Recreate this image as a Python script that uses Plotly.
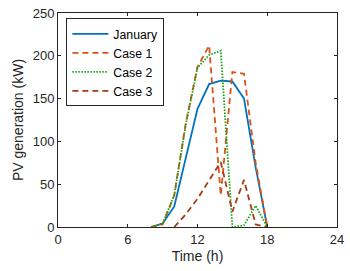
import plotly.graph_objects as go

hours = [8, 9, 10, 11, 12, 13, 14, 15, 16, 17, 18]
january = [0, 4, 24, 81, 138, 167, 171, 170, 150, 70, 0]
case1 = [0, 3, 37, 122, 187, 212, 37, 181, 179, 75, 0]
case2 = [0, 4, 37, 120, 186, 201, 206, 0, 2, 25, 0]
hours3 = [10, 11, 12, 13, 14, 15, 16, 17, 18]
case3 = [0, 15, 33, 55, 76, 18, 55, 3, 0]

x_ticks = [0, 6, 12, 18, 24]
y_ticks = [0, 50, 100, 150, 200, 250]

FONT = "Liberation Sans, Arial, Helvetica, sans-serif"
AX = "#262626"

fig = go.Figure()
fig.add_trace(go.Scatter(x=hours, y=january, mode="lines", name="January",
                         line=dict(color="#0072BD", width=1.8)))
fig.add_trace(go.Scatter(x=hours, y=case1, mode="lines", name="Case 1",
                         line=dict(color="#D95319", width=1.8, dash="6px,4px")))
fig.add_trace(go.Scatter(x=hours, y=case2, mode="lines", name="Case 2",
                         line=dict(color="#13A013", width=1.8, dash="1.5px,1.5px")))
fig.add_trace(go.Scatter(x=hours3, y=case3, mode="lines", name="Case 3",
                         line=dict(color="#A33D12", width=1.8, dash="6px,4px")))

axis_common = dict(showline=True, linecolor=AX, linewidth=1, mirror="ticks",
                   ticks="inside", ticklen=3, tickcolor=AX, showgrid=False,
                   zeroline=False, ticklabeloverflow="allow",
                   tickfont=dict(family=FONT, size=13, color=AX))

fig.update_xaxes(range=[0, 24], tickvals=x_ticks, ticktext=[str(v) for v in x_ticks],
                 title=dict(text="Time (h)", font=dict(family=FONT, size=14, color=AX), standoff=5),
                 **axis_common)
fig.update_yaxes(range=[0, 250], tickvals=y_ticks, ticktext=[str(v) for v in y_ticks],
                 title=dict(text="PV generation (kW)", font=dict(family=FONT, size=14, color=AX), standoff=5),
                 **axis_common)

fig.update_layout(
    width=350, height=271,
    margin=dict(l=58, r=6, t=13, b=44),
    plot_bgcolor="white", paper_bgcolor="white",
    font=dict(family=FONT, color=AX),
    legend=dict(x=0.03, y=0.975, xanchor="left", yanchor="top",
                bgcolor="white", bordercolor=AX, borderwidth=1,
                font=dict(family=FONT, size=12.3, color="black"),
                tracegroupgap=0, itemwidth=36),
)

fig.write_html("out.html", config={"displayModeBar": False},
               post_script="document.body.style.margin='0';document.body.style.padding='0';")
